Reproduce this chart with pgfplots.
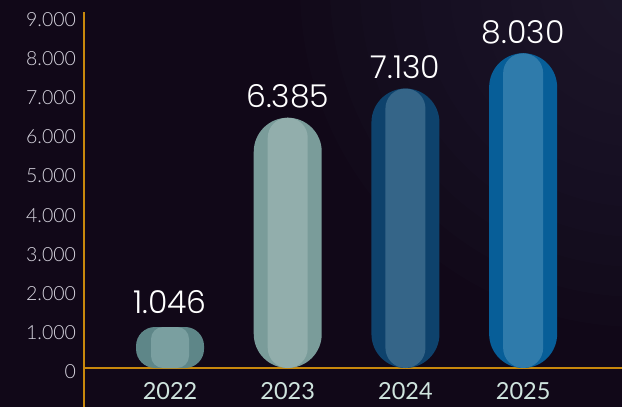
\documentclass[border=0pt]{standalone}
\usepackage{fontspec}
\usepackage{pgfplots}
\pgfplotsset{compat=1.18}
\setmainfont{Lato}
\newfontfamily\tickfont{Lato Light}
\newfontfamily\valfont{Poppins Light}

\definecolor{bg}{HTML}{110818}
\definecolor{glow}{HTML}{262238}
\definecolor{axisorange}{HTML}{C8880C}
\definecolor{ticklab}{HTML}{D8D6E0}
\definecolor{yearlab}{HTML}{CFE4DE}
\definecolor{c22o}{HTML}{5E8688}
\definecolor{c22i}{HTML}{7A9FA0}
\definecolor{c23o}{HTML}{7A9C9A}
\definecolor{c23i}{HTML}{92AEAC}
\definecolor{c24o}{HTML}{0E426C}
\definecolor{c24i}{HTML}{356588}
\definecolor{c25o}{HTML}{075E98}
\definecolor{c25i}{HTML}{2F7BAB}

\begin{document}
\begin{tikzpicture}[x=1bp,y=1bp]
  % dark backdrop with a faint glow in the upper right corner
  \fill[bg] (0,0) rectangle (622,407);
  \begin{scope}
    \clip (0,0) rectangle (622,407);
    \foreach \r in {340,310,...,40}
      \fill[glow, opacity=0.09] (640,420) circle (\r);
  \end{scope}
  \useasboundingbox (0,0) rectangle (622,407);

  \begin{axis}[
    at={(84bp,0bp)}, anchor=south west,
    scale only axis, width=538bp, height=395bp,
    xmin=-0.731, xmax=3.84, ymin=-995, ymax=9082,
    axis x line=middle, axis y line=left,
    axis line style={draw=axisorange, line width=1.5bp, -},
    xtick={0,1,2,3}, xticklabels={2022,2023,2024,2025},
    ytick={0,1000,...,9000},
    major tick length=0pt,
    /pgf/number format/.cd, 1000 sep={.}, assume math mode=true,
    /pgfplots/.cd,
    yticklabel style={font=\tickfont\fontsize{19.5bp}{20bp}\selectfont,
      text=ticklab, xshift=-4.5bp, yshift=-4bp},
    xticklabel style={font=\fontsize{23.5bp}{24bp}\selectfont,
      text=yearlab, yshift=-11bp},
    every node near coord/.append style={
      font=\valfont\fontsize{31.5bp}{32bp}\selectfont, text=white, yshift=6bp},
  ]
    % 2022
    \addplot[ybar, bar shift=0pt, bar width=68bp, fill=c22o, draw=none,
      rounded corners=19bp, nodes near coords,
      every node near coord/.append style={yshift=4bp}] coordinates {(0,1046)};
    \addplot[ybar, bar shift=0pt, bar width=38bp, fill=c22i, draw=none,
      rounded corners=12bp] coordinates {(0,1046)};
    % 2023
    \addplot[ybar, bar shift=0pt, bar width=68bp, fill=c23o, draw=none,
      rounded corners=34bp, nodes near coords] coordinates {(1,6385)};
    \addplot[ybar, bar shift=0pt, bar width=40bp, fill=c23i, draw=none,
      rounded corners=20bp] coordinates {(1,6385)};
    % 2024
    \addplot[ybar, bar shift=0pt, bar width=68bp, fill=c24o, draw=none,
      rounded corners=34bp, nodes near coords] coordinates {(2,7130)};
    \addplot[ybar, bar shift=0pt, bar width=40bp, fill=c24i, draw=none,
      rounded corners=20bp] coordinates {(2,7130)};
    % 2025
    \addplot[ybar, bar shift=0pt, bar width=68bp, fill=c25o, draw=none,
      rounded corners=34bp, nodes near coords] coordinates {(3,8030)};
    \addplot[ybar, bar shift=0pt, bar width=40bp, fill=c25i, draw=none,
      rounded corners=20bp] coordinates {(3,8030)};
  \end{axis}
\end{tikzpicture}
\end{document}
